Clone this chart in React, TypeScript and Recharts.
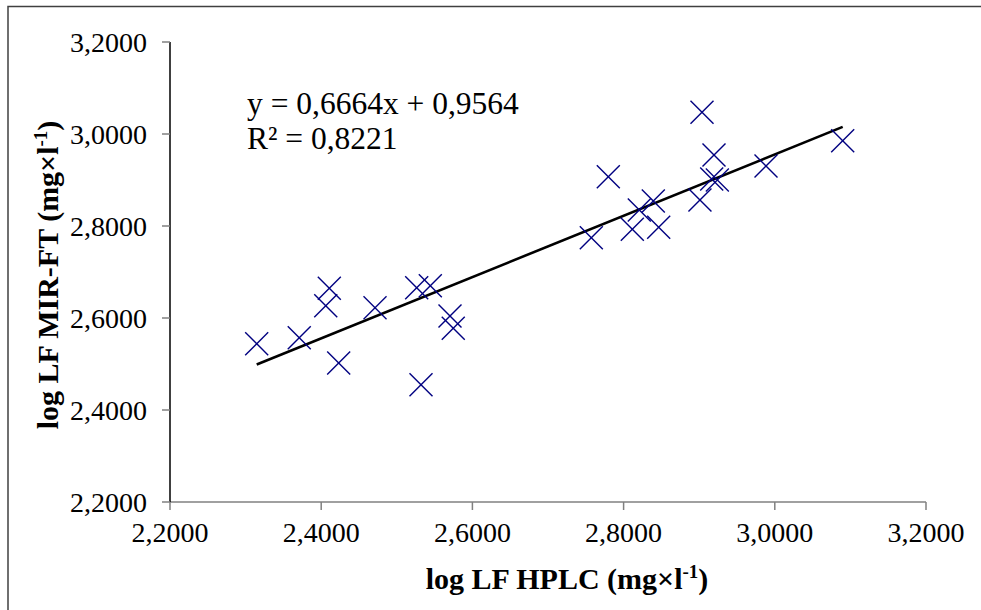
import React from 'react';
import { ScatterChart, Scatter, XAxis, YAxis, ReferenceLine } from 'recharts';

// log LF HPLC values (x) and log LF MIR-FT values (y)
const hplc = [
  2.3147, 2.371, 2.406, 2.4107, 2.4231, 2.4712, 2.5263, 2.532, 2.5443, 2.5704, 2.5747,
  2.7573, 2.7798, 2.8115, 2.8208, 2.8393, 2.8464, 2.901, 2.9037, 2.9165, 2.9196, 2.924,
  2.9884, 3.0898,
];
const mirft = [
  2.5441, 2.5572, 2.6267, 2.6646, 2.5022, 2.6224, 2.6659, 2.455, 2.6702, 2.6043, 2.5776,
  2.7746, 2.9072, 2.7928, 2.8348, 2.8543, 2.7972, 2.8565, 3.0472, 2.9022, 2.9543, 2.9,
  2.9304, 2.9855,
];
const xTicks = [2.2, 2.4, 2.6, 2.8, 3.0, 3.2];
const yTicks = [2.2, 2.4, 2.6, 2.8, 3.0, 3.2];
const trendSlope = 0.6664;
const trendIntercept = 0.9564;
const trendRange = [2.3147, 3.0898];
const equationLines = ['y = 0,6664x + 0,9564', 'R² = 0,8221'];
const xTitle = 'log LF HPLC (mg×l';
const yTitle = 'log LF MIR-FT (mg×l';
const titleSup = '-1';
const titleEnd = ')';

const data = hplc.map((x, i) => ({ x, y: mirft[i] }));
const trendSegment = trendRange.map((x) => ({ x, y: trendSlope * x + trendIntercept }));

const FONT = '"Liberation Serif", "Times New Roman", serif';
const fmt = (v: number) => v.toFixed(4).replace('.', ',');

const Cross = (props: any) => {
  const { cx, cy } = props;
  if (cx == null || cy == null) return null;
  const r = 11.5;
  return (
    <g stroke="#000080" strokeWidth={1.4}>
      <line x1={cx - r} y1={cy - r} x2={cx + r} y2={cy + r} />
      <line x1={cx - r} y1={cy + r} x2={cx + r} y2={cy - r} />
    </g>
  );
};

export default function App() {
  return (
    <div style={{ position: 'absolute', left: 0, top: 0, width: 981, height: 610, background: '#fff' }}>
      <ScatterChart
        width={981}
        height={610}
        margin={{ top: 42, right: 55, bottom: 0, left: 0 }}
        style={{ position: 'absolute', left: 0, top: 0 }}
      >
        <XAxis
          type="number"
          dataKey="x"
          domain={[2.2, 3.2]}
          ticks={xTicks}
          tickFormatter={fmt}
          height={108}
          tickSize={8}
          tickMargin={12}
          stroke="#808080"
          axisLine={{ stroke: '#808080', strokeWidth: 1.5 }}
          tickLine={{ stroke: '#808080', strokeWidth: 1.5 }}
          tick={{ fill: '#000', fontFamily: FONT, fontSize: 28 }}
          allowDataOverflow
        />
        <YAxis
          type="number"
          dataKey="y"
          domain={[2.2, 3.2]}
          ticks={yTicks}
          tickFormatter={fmt}
          width={170}
          tickSize={8}
          tickMargin={15}
          axisLine={{ stroke: '#000', strokeWidth: 1.5 }}
          tickLine={{ stroke: '#808080', strokeWidth: 1.5 }}
          tick={{ fill: '#000', fontFamily: FONT, fontSize: 28 }}
          allowDataOverflow
        />
        <ReferenceLine
          segment={trendSegment}
          stroke="#000"
          strokeWidth={2.6}
          ifOverflow="visible"
        />
        <Scatter data={data} shape={Cross} isAnimationActive={false} />
      </ScatterChart>
      <svg
        width={981}
        height={610}
        style={{ position: 'absolute', left: 0, top: 0, pointerEvents: 'none' }}
      >
        <path d="M8 700 L8 6.5 L990 6.5" fill="none" stroke="#404040" strokeWidth={1.5} />
        <text fontFamily={FONT} fontSize={31.5} fill="#000">
          <tspan x={247} y={114}>{equationLines[0]}</tspan>
          <tspan x={247} y={149}>{equationLines[1]}</tspan>
        </text>
        <text
          x={567}
          y={589}
          textAnchor="middle"
          fontFamily={FONT}
          fontSize={30}
          fontWeight="bold"
          fill="#000"
        >
          {xTitle}
          <tspan fontSize={19} dy={-11}>{titleSup}</tspan>
          <tspan dy={11}>{titleEnd}</tspan>
        </text>
        <text
          transform="translate(58 275) rotate(-90)"
          textAnchor="middle"
          fontFamily={FONT}
          fontSize={30}
          fontWeight="bold"
          fill="#000"
        >
          {yTitle}
          <tspan fontSize={19} dy={-11}>{titleSup}</tspan>
          <tspan dy={11}>{titleEnd}</tspan>
        </text>
      </svg>
    </div>
  );
}
